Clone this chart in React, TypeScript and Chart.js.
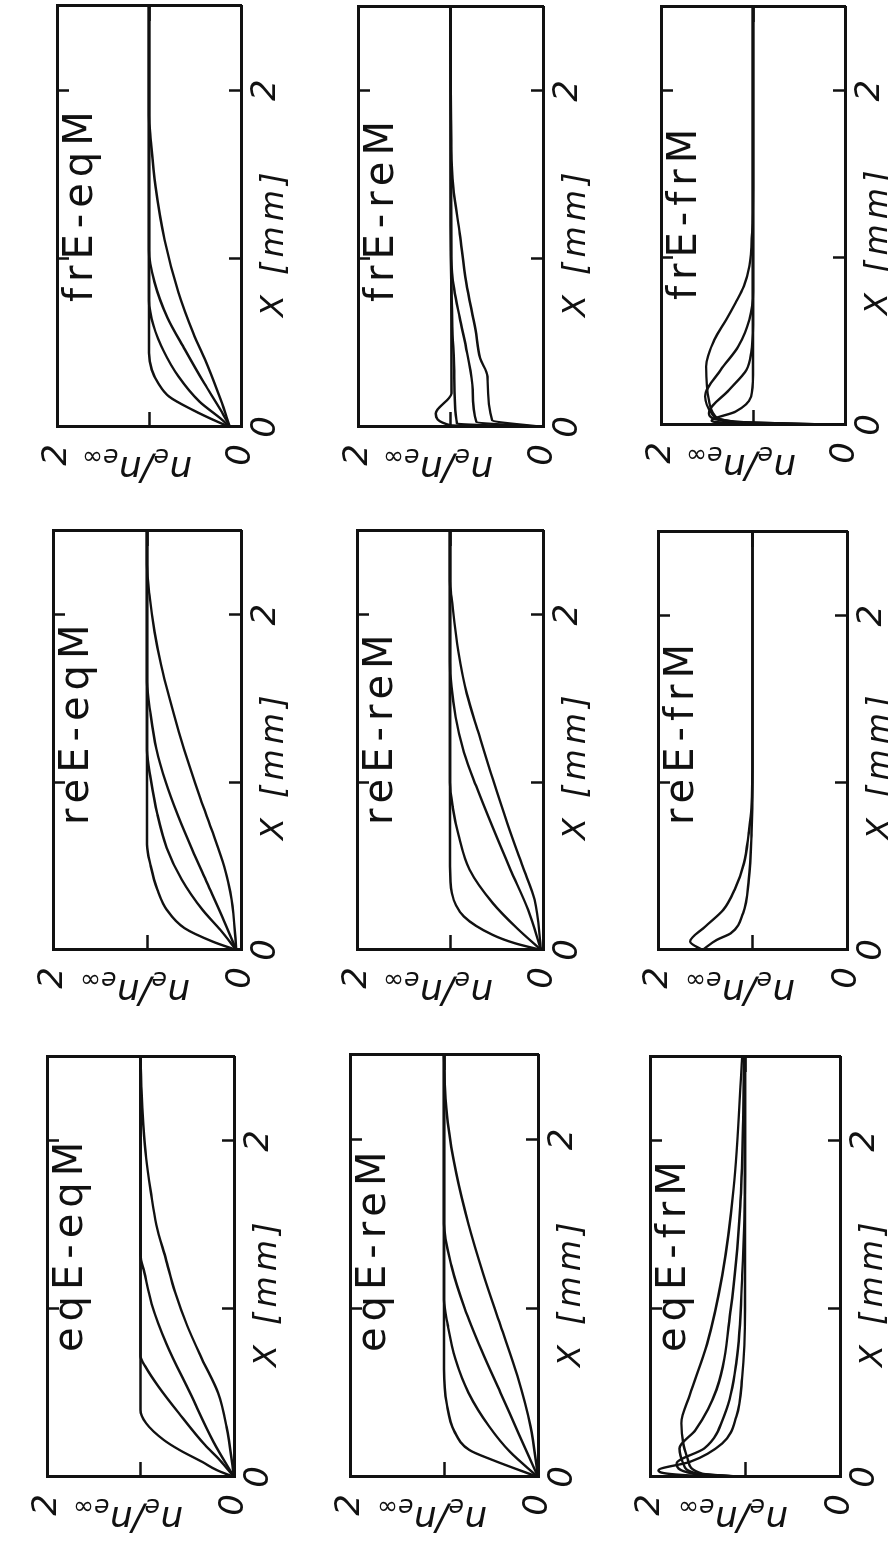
import React, { useEffect, useRef } from 'react';
import { Chart, registerables } from 'chart.js';

Chart.register(...registerables);

// ---------- axes ----------
const X_MAX = 2.5;
const N_MAX = 2;
const X_TICKS = [0, 1, 2];
const N_TICKS = [0, 1, 2];
const X_TICKS_TOP = [1, 2];
const N_TICKS_RIGHT = [1];
const X_TITLE = 'X [mm]';

const PANEL_LABELS = [
  'frE-eqM', 'frE-reM', 'frE-frM',
  'reE-eqM', 'reE-reM', 'reE-frM',
  'eqE-eqM', 'eqE-reM', 'eqE-frM',
];

// ---------- curve data: X [mm] and n_e/n_e∞ ----------
const FRE_EQM_X = [
  [0, 0.03, 0.1, 0.18, 0.26, 0.34, 0.44, 2.5],
  [0, 0.05, 0.15, 0.3, 0.45, 0.6, 0.75, 2.5],
  [0, 0.1, 0.26, 0.46, 0.65, 0.86, 1.05, 2.5],
  [0, 0.16, 0.36, 0.56, 0.8, 1.11, 1.43, 1.7, 1.85, 2.5],
];
const FRE_EQM_N = [
  [0.12, 0.25, 0.52, 0.78, 0.9, 0.97, 1, 1],
  [0.12, 0.22, 0.45, 0.68, 0.84, 0.95, 1, 1],
  [0.12, 0.22, 0.4, 0.61, 0.8, 0.94, 1, 1],
  [0.12, 0.22, 0.36, 0.52, 0.68, 0.83, 0.93, 0.98, 1, 1],
];

const FRE_REM_X = [
  [0, 0.01, 0.08, 0.2, 2.5],
  [0, 0.02, 0.3, 0.6, 1.2, 2.5],
  [0, 0.03, 0.22, 0.44, 0.65, 0.82, 1.0, 2.5],
  [0, 0.04, 0.3, 0.41, 0.58, 0.86, 1.15, 1.43, 1.65, 2.5],
];
const FRE_REM_N = [
  [0, 1.0, 1.16, 0.99, 1],
  [0, 0.93, 0.96, 0.98, 1, 1],
  [0, 0.72, 0.76, 0.82, 0.9, 0.96, 0.99, 1],
  [0, 0.55, 0.6, 0.68, 0.73, 0.83, 0.9, 0.97, 0.99, 1],
];

const FRE_FRM_X = [
  [0, 0.02, 0.06, 0.15, 0.35, 0.51, 0.63, 0.73, 0.83, 0.95, 1.15, 1.42, 2.5],
  [0, 0.02, 0.07, 0.17, 0.33, 0.47, 0.63, 0.8, 2.5],
  [0, 0.015, 0.07, 0.21, 0.33, 0.43, 0.6, 2.5],
  [0, 0.01, 0.026, 0.08, 0.17, 0.3, 2.5],
];
const FRE_FRM_N = [
  [0, 1.2, 1.42, 1.48, 1.51, 1.42, 1.29, 1.19, 1.1, 1.04, 1.01, 1, 1],
  [0, 1.2, 1.45, 1.52, 1.35, 1.16, 1.04, 1, 1],
  [0, 1.2, 1.48, 1.26, 1.07, 1.02, 1, 1],
  [0, 1.1, 1.45, 1.19, 1.02, 1, 1],
];

const REE_EQM_X = [
  [0, 0.05, 0.13, 0.24, 0.36, 0.5, 0.63, 2.5],
  [0, 0.12, 0.24, 0.42, 0.61, 0.81, 1.02, 1.19, 2.5],
  [0, 0.2, 0.4, 0.6, 0.8, 1.0, 1.2, 1.4, 1.6, 2.5],
  [0, 0.3, 0.5, 0.7, 0.9, 1.1, 1.3, 1.5, 1.7, 1.9, 2.1, 2.3, 2.5],
];
const REE_EQM_N = [
  [0.05, 0.3, 0.6, 0.79, 0.89, 0.96, 1, 1],
  [0.05, 0.22, 0.41, 0.63, 0.79, 0.89, 0.96, 1, 1],
  [0.05, 0.2, 0.36, 0.52, 0.67, 0.8, 0.9, 0.96, 1, 1],
  [0.05, 0.1, 0.18, 0.3, 0.43, 0.55, 0.66, 0.76, 0.85, 0.92, 0.97, 1, 1],
];

const REE_REM_X = [
  [0, 0.04, 0.09, 0.2, 0.34, 0.5, 2.5],
  [0, 0.13, 0.28, 0.48, 0.69, 0.85, 1.0, 2.5],
  [0, 0.24, 0.48, 0.73, 0.98, 1.18, 1.39, 1.72, 2.5],
  [0, 0.3, 0.5, 0.75, 1.02, 1.29, 1.53, 1.78, 2.09, 2.2, 2.5],
];
const REE_REM_N = [
  [0.02, 0.3, 0.54, 0.85, 0.98, 1, 1],
  [0.02, 0.28, 0.54, 0.79, 0.91, 0.97, 1, 1],
  [0.02, 0.16, 0.35, 0.54, 0.72, 0.85, 0.94, 1, 1],
  [0.02, 0.09, 0.22, 0.38, 0.54, 0.69, 0.82, 0.91, 0.98, 1, 1],
];

const REE_FRM_X = [
  [0, 0.05, 0.14, 0.24, 0.36, 0.52, 0.7, 0.85, 1.2, 2.5],
  [0, 0.06, 0.1, 0.22, 0.42, 0.7, 1.0, 2.5],
];
const REE_FRM_N = [
  [1.53, 1.66, 1.5, 1.31, 1.19, 1.09, 1.04, 1.01, 1, 1],
  [1.53, 1.38, 1.23, 1.1, 1.04, 1.01, 1, 1],
];

const EQE_EQM_X = [
  [0, 0.04, 0.09, 0.16, 0.22, 0.32, 0.4, 2.5],
  [0, 0.1, 0.19, 0.38, 0.54, 0.65, 0.72, 2.5],
  [0, 0.21, 0.5, 0.79, 1.03, 1.22, 1.32, 2.5],
  [0, 0.3, 0.5, 0.7, 0.9, 1.1, 1.3, 1.5, 1.7, 1.9, 2.1, 2.3, 2.5],
];
const EQE_EQM_N = [
  [0, 0.18, 0.34, 0.58, 0.75, 0.94, 1, 1],
  [0, 0.15, 0.31, 0.59, 0.81, 0.94, 1, 1],
  [0, 0.22, 0.47, 0.72, 0.88, 0.96, 1, 1],
  [0, 0.08, 0.17, 0.34, 0.5, 0.63, 0.73, 0.83, 0.89, 0.94, 0.97, 0.99, 1],
];

const EQE_REM_X = [
  [0, 0.1, 0.16, 0.27, 0.43, 0.64, 2.5],
  [0, 0.15, 0.3, 0.5, 0.7, 0.9, 1.05, 2.5],
  [0, 0.25, 0.5, 0.75, 1.0, 1.25, 1.5, 2.5],
  [0, 0.3, 0.6, 0.9, 1.2, 1.5, 1.8, 2.1, 2.3, 2.5],
];
const EQE_REM_N = [
  [0, 0.48, 0.73, 0.89, 0.97, 1, 1],
  [0, 0.3, 0.52, 0.74, 0.88, 0.96, 1, 1],
  [0, 0.2, 0.4, 0.6, 0.78, 0.92, 1, 1],
  [0, 0.08, 0.22, 0.4, 0.58, 0.74, 0.87, 0.96, 0.99, 1],
];

const EQE_FRM_X = [
  [0, 0.02, 0.1, 0.2, 0.32, 0.49, 0.79, 1.2, 1.72, 2.5],
  [0, 0.02, 0.08, 0.17, 0.28, 0.52, 1.0, 1.61, 2.13, 2.5],
  [0, 0.02, 0.08, 0.17, 0.38, 0.69, 1.2, 1.8, 2.5],
  [0, 0.01, 0.04, 0.09, 0.2, 0.36, 0.59, 1.0, 2.5],
];
const EQE_FRM_N = [
  [1.0, 1.45, 1.6, 1.65, 1.67, 1.58, 1.4, 1.24, 1.12, 1.03],
  [1.0, 1.5, 1.65, 1.69, 1.52, 1.3, 1.15, 1.05, 1.02, 1.01],
  [1.0, 1.55, 1.72, 1.43, 1.21, 1.09, 1.03, 1.0, 1.0],
  [1.0, 1.6, 1.91, 1.58, 1.24, 1.09, 1.03, 1.0, 1.0],
];

const PANEL_XS = [FRE_EQM_X, FRE_REM_X, FRE_FRM_X, REE_EQM_X, REE_REM_X, REE_FRM_X, EQE_EQM_X, EQE_REM_X, EQE_FRM_X];
const PANEL_NS = [FRE_EQM_N, FRE_REM_N, FRE_FRM_N, REE_EQM_N, REE_REM_N, REE_FRM_N, EQE_EQM_N, EQE_REM_N, EQE_FRM_N];

// ---------- layout (page coordinates of each plot box: left, right, top, bottom) ----------
const FRAME_W = 1546;
const FRAME_H = 888;
const PAGE_BOXES = [
  [32, 241, 6, 427], [333, 543, 7, 427], [636, 845, 7, 425],
  [28, 241, 531, 950], [332, 543, 531, 950], [633, 847, 532, 950],
  [22, 234, 1057, 1477], [325, 538, 1055, 1477], [625, 840, 1057, 1477],
];
const Y_AXIS_W = 60;
const X_AXIS_H = 60;
const PAD_L = 6;
const PAD_R = 12;
const PAD_T = 24;
const PAD_B = 6;
const INK = '#111';
const FONT = "'DejaVu Sans', 'Liberation Sans', sans-serif";

function makeAxis(position: string, max: number, ticks: number[], labelled: boolean, tickLen: number, fit: number) {
  const horizontal = position === 'bottom' || position === 'top';
  return {
    type: 'linear',
    position,
    min: 0,
    max,
    afterBuildTicks: (s: any) => {
      s.ticks = ticks.map((v) => ({ value: v }));
    },
    afterFit: (s: any) => {
      if (horizontal) s.height = fit;
      else s.width = fit;
    },
    grid: {
      drawOnChartArea: false,
      drawTicks: true,
      tickLength: -tickLen,
      tickWidth: 2.5,
      tickColor: INK,
    },
    border: { display: true, color: INK, width: 3 },
    ticks: {
      display: labelled,
      font: { family: FONT, size: 34, style: 'italic', lineHeight: 1 },
      color: INK,
      padding: horizontal ? 20 : 32,
      maxRotation: 0,
      autoSkip: false,
      callback: (v: any) => (v === 1 ? '' : String(v)),
    },
  };
}

function Panel({ index }: { index: number }) {
  const ref = useRef<HTMLCanvasElement | null>(null);
  const [L, R, T, B] = PAGE_BOXES[index];
  const aL = FRAME_W - B;
  const aR = FRAME_W - T;
  const aT = L;
  const aB = R;
  const cw = aR - aL + Y_AXIS_W + PAD_L + PAD_R;
  const ch = aB - aT + PAD_T + PAD_B + X_AXIS_H;
  const cLeft = aL - Y_AXIS_W - PAD_L;
  const cTop = aT - PAD_T;

  useEffect(() => {
    if (!ref.current) return;
    const xs = PANEL_XS[index];
    const ns = PANEL_NS[index];
    const datasets = xs.map((xArr, i) => ({
      data: xArr.map((x, j) => ({ x, y: ns[i][j] })),
      borderColor: INK,
      borderWidth: 2.4,
      pointRadius: 0,
      fill: false,
      cubicInterpolationMode: 'monotone',
      xAxisID: 'x',
      yAxisID: 'y',
    }));
    const chart = new Chart(ref.current, {
      type: 'line',
      data: { datasets } as any,
      options: {
        animation: false,
        responsive: false,
        devicePixelRatio: 1,
        layout: { padding: { left: PAD_L, right: PAD_R, top: PAD_T, bottom: PAD_B } },
        plugins: { legend: { display: false }, tooltip: { enabled: false }, title: { display: false } },
        events: [],
        scales: {
          x: makeAxis('bottom', X_MAX, X_TICKS, true, 12, X_AXIS_H),
          x2: makeAxis('top', X_MAX, X_TICKS_TOP, false, 12, 0),
          y: makeAxis('left', N_MAX, N_TICKS, true, 15, Y_AXIS_W),
          y2: makeAxis('right', N_MAX, N_TICKS_RIGHT, false, 15, 0),
        } as any,
      },
    });
    return () => chart.destroy();
  }, [index]);

  const midY = (aT + aB) / 2;
  return (
    <>
      <canvas
        ref={ref}
        width={cw}
        height={ch}
        style={{ position: 'absolute', left: cLeft, top: cTop, width: cw, height: ch }}
      />
      <div
        style={{
          position: 'absolute',
          left: aL + 125,
          top: aT + 26,
          fontFamily: FONT,
          fontSize: 40,
          lineHeight: 1,
          letterSpacing: 6,
          color: INK,
          whiteSpace: 'nowrap',
        }}
      >
        {PANEL_LABELS[index]}
      </div>
      <div
        style={{
          position: 'absolute',
          left: aL + 110,
          top: aB + 15,
          fontFamily: FONT,
          fontStyle: 'italic',
          fontSize: 32,
          lineHeight: 1,
          letterSpacing: 5,
          color: INK,
          whiteSpace: 'nowrap',
        }}
      >
        {X_TITLE}
      </div>
      <div
        style={{
          position: 'absolute',
          left: aL - 42 - 110,
          top: midY - 20,
          width: 220,
          height: 40,
          lineHeight: '40px',
          textAlign: 'center',
          fontFamily: FONT,
          fontStyle: 'italic',
          fontSize: 36,
          color: INK,
          whiteSpace: 'nowrap',
          transform: 'rotate(-90deg)',
        }}
      >
        n<span style={{ fontSize: '0.7em', position: 'relative', top: '0.3em' }}>e</span>/n
        <span style={{ fontSize: '0.7em', position: 'relative', top: '0.3em' }}>e∞</span>
      </div>
    </>
  );
}

export default function App() {
  useEffect(() => {
    document.body.style.margin = '0';
  }, []);
  return (
    <div
      style={{
        position: 'absolute',
        left: 0,
        top: 0,
        width: 888,
        height: 1546,
        overflow: 'hidden',
        background: '#fff',
      }}
    >
      <div
        style={{
          position: 'absolute',
          left: 0,
          top: 0,
          width: FRAME_W,
          height: FRAME_H,
          transformOrigin: '0 0',
          transform: `translateY(${FRAME_W}px) rotate(-90deg)`,
        }}
      >
        {PANEL_LABELS.map((_, i) => (
          <Panel key={i} index={i} />
        ))}
      </div>
    </div>
  );
}
